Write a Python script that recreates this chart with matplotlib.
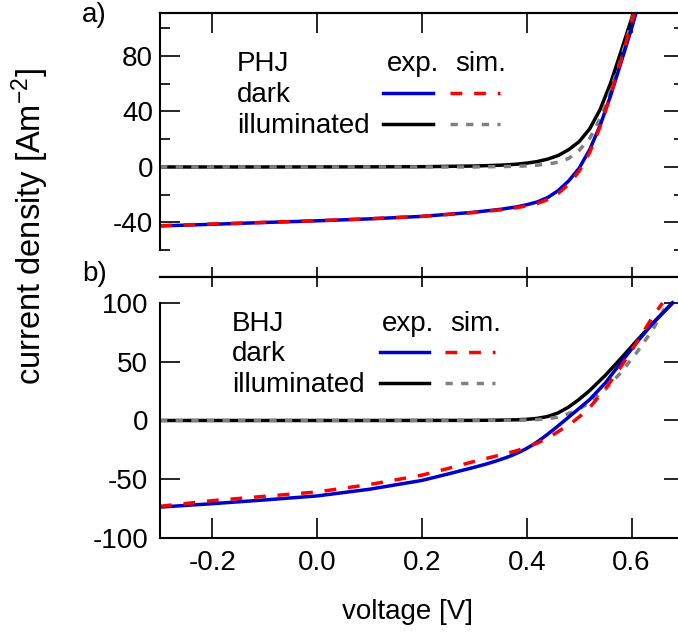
import numpy as np
import matplotlib
matplotlib.use("Agg")
import matplotlib.pyplot as plt
from matplotlib.ticker import FixedLocator

plt.rcParams['font.family'] = ['Liberation Sans', 'DejaVu Sans']
plt.rcParams['axes.unicode_minus'] = False
plt.rcParams['mathtext.default'] = 'regular'

# a) PHJ
v_phj_dark = [-0.3, -0.1, 0.1, 0.2, 0.3, 0.35, 0.38, 0.40, 0.42, 0.44, 0.46, 0.48, 0.50, 0.52, 0.54, 0.56, 0.58, 0.60, 0.62]
j_phj_dark_exp = [0, 0, 0.1, 0.2, 0.7, 1.3, 2.0, 2.8, 3.9, 5.7, 8.3, 12.5, 18.3, 27.5, 41.5, 60.5, 83.5, 107, 133]
j_phj_dark_sim = [0, 0, 0, 0, 0, 0.3, 0.5, 0.8, 1.3, 2.2, 3.4, 6.2, 12.0, 20.5, 35.0, 55.0, 78.0, 105, 135]
v_phj_ill = [-0.3, -0.2, -0.1, 0.0, 0.1, 0.2, 0.3, 0.35, 0.38, 0.40, 0.42, 0.44, 0.46, 0.48, 0.50, 0.52, 0.54, 0.56, 0.58, 0.60, 0.62]
j_phj_ill_exp = [-42.5, -41.3, -40.0, -38.8, -37.4, -35.6, -32.6, -30.5, -28.8, -27.2, -25.2, -22.0, -17.0, -10.0, -0.8, 12.5, 30.0, 51.5, 75.5, 100, 126]
j_phj_ill_sim = [-42.3, -41.1, -39.9, -38.7, -37.3, -35.6, -32.8, -30.9, -29.4, -28.0, -26.3, -23.5, -19.0, -12.5, -3.0, 10.5, 29.0, 52.0, 77.5, 104, 132]

# b) BHJ
v_bhj_dark_exp = [-0.3, -0.1, 0.1, 0.3, 0.35, 0.38, 0.40, 0.42, 0.44, 0.46, 0.48, 0.50, 0.52, 0.55, 0.58, 0.61, 0.64, 0.678]
j_bhj_dark_exp = [0, 0, 0, 0.1, 0.3, 0.6, 1.0, 1.8, 3.4, 6.5, 11.5, 18.0, 25.5, 38.5, 53.0, 68.0, 82.5, 100]
v_bhj_dark_sim = [-0.3, -0.1, 0.1, 0.3, 0.35, 0.40, 0.43, 0.46, 0.49, 0.52, 0.55, 0.58, 0.61, 0.64, 0.669]
j_bhj_dark_sim = [0, 0, 0, 0, 0.1, 0.4, 1.0, 2.8, 7.5, 15.0, 26.5, 41.0, 58.0, 77.0, 100]
v_bhj_ill_exp = [-0.3, -0.2, -0.1, 0.0, 0.1, 0.2, 0.25, 0.30, 0.32, 0.34, 0.36, 0.37, 0.38, 0.39, 0.40,
                 0.41, 0.42, 0.43, 0.44, 0.45, 0.46, 0.49, 0.52, 0.55, 0.58, 0.61, 0.64, 0.678]
j_bhj_ill_exp = [-73.7, -70.8, -67.6, -64.2, -58.5, -51.0, -45.5, -39.8, -37.4, -34.7, -31.7, -30.0, -28.1, -26.0, -23.7,
                 -21.1, -18.2, -15.0, -11.6, -8.1, -4.5, 6.6, 17.8, 32.0, 49.5, 66.5, 82.5, 100]
v_bhj_ill_sim = [-0.3, -0.2, -0.1, 0.0, 0.1, 0.2, 0.25, 0.30, 0.33, 0.36, 0.38, 0.40, 0.42, 0.44, 0.46,
                 0.49, 0.505, 0.52, 0.55, 0.58, 0.61, 0.64, 0.659]
j_bhj_ill_sim = [-73.0, -68.2, -64.5, -60.8, -54.5, -46.5, -40.8, -34.8, -31.5, -28.2, -25.8, -22.8, -19.3, -14.8, -9.5,
                 -0.5, 4.9, 11.0, 27.0, 46.0, 66.5, 88.0, 100]

xticks = [-0.2, 0.0, 0.2, 0.4, 0.6]
xticklabels = ['-0.2', '0.0', '0.2', '0.4', '0.6']

BLUE = '#0000cc'
RED = '#ff0000'
GRAY = '#808080'
LW = 2.5
FS = 20

W, H = 678, 644
fig = plt.figure(figsize=(W / 100, H / 100), dpi=100)
ax1 = fig.add_axes([160 / W, 1 - 277 / H, 524 / W, 264 / H])
ax2 = fig.add_axes([160 / W, 1 - 538 / H, 524 / W, 261 / H])

for ax in (ax1, ax2):
    ax.set_xlim(-0.3, 0.7)
    for s in ax.spines.values():
        s.set_linewidth(1.5)

# curves
ax1.plot(v_phj_dark, j_phj_dark_exp, color='black', lw=LW)
ax1.plot(v_phj_dark, j_phj_dark_sim, color=GRAY, lw=LW, dashes=(2.1, 2.4))
ax1.plot(v_phj_ill, j_phj_ill_exp, color=BLUE, lw=LW)
ax1.plot(v_phj_ill, j_phj_ill_sim, color=RED, lw=LW, dashes=(3.4, 3.4))

ax2.plot(v_bhj_dark_exp, j_bhj_dark_exp, color='black', lw=LW)
ax2.plot(v_bhj_dark_sim, j_bhj_dark_sim, color=GRAY, lw=LW, dashes=(2.1, 2.4))
ax2.plot(v_bhj_ill_exp, j_bhj_ill_exp, color=BLUE, lw=LW)
ax2.plot(v_bhj_ill_sim, j_bhj_ill_sim, color=RED, lw=LW, dashes=(3.4, 3.4))

# top panel axes
ax1.set_ylim(-79.3, 111)
ax1.spines['left'].set_bounds(-60, 111)
ax1.spines['right'].set_bounds(-60, 111)
ax1.yaxis.set_major_locator(FixedLocator([-40, 0, 40, 80]))
ax1.yaxis.set_minor_locator(FixedLocator([-60, -20, 20, 60, 100]))
ax1.tick_params(axis='y', which='both', direction='in', left=True, right=True, width=1.2, labelsize=FS, pad=5)
ax1.tick_params(axis='y', which='major', length=14.4)
ax1.tick_params(axis='y', which='minor', length=7.2)
ax1.set_xticks(xticks)
ax1.tick_params(axis='x', direction='in', bottom=True, top=False, labelbottom=False, length=7.2, width=1.2)
sec1 = ax1.secondary_xaxis('top')
sec1.set_xticks(xticks)
sec1.tick_params(direction='in', length=14.4, width=1.2, labeltop=False)
sec1.spines['top'].set_linewidth(1.5)

# bottom panel axes
ax2.set_ylim(-100, 122.1)
ax2.spines['left'].set_bounds(-100, 100)
ax2.spines['right'].set_bounds(-100, 100)
ax2.set_yticks([-100, -50, 0, 50, 100])
ax2.tick_params(axis='y', direction='in', left=True, right=True, length=14.4, width=1.2, labelsize=FS, pad=8.6)
ax2.set_xticks(xticks)
ax2.set_xticklabels(xticklabels)
ax2.tick_params(axis='x', direction='in', bottom=True, top=False, length=14.4, width=1.2, labelsize=FS, pad=9)
sec2 = ax2.secondary_xaxis('top')
sec2.set_xticks(xticks)
sec2.tick_params(direction='in', length=7.2, width=1.2, labeltop=False)
sec2.spines['top'].set_linewidth(1.5)

# legends
def legend_block(ax, name, y_name, y_dark, y_ill, y_dline, y_iline, x_name, x_exp, x_sim, xl_exp, xl_sim):
    ax.text(x_name, y_name, name, transform=ax.transAxes, fontsize=FS, va='baseline')
    ax.text(x_name, y_dark, 'dark', transform=ax.transAxes, fontsize=FS, va='baseline')
    ax.text(x_name, y_ill, 'illuminated', transform=ax.transAxes, fontsize=FS, va='baseline')
    ax.text(x_exp, y_name, 'exp.', transform=ax.transAxes, fontsize=FS, va='baseline')
    ax.text(x_sim, y_name, 'sim.', transform=ax.transAxes, fontsize=FS, va='baseline')
    ax.plot(xl_exp, [y_dline, y_dline], transform=ax.transAxes, color=BLUE, lw=LW)
    ax.plot(xl_sim, [y_dline, y_dline], transform=ax.transAxes, color=RED, lw=LW, dashes=(3.4, 3.4))
    ax.plot(xl_exp, [y_iline, y_iline], transform=ax.transAxes, color='black', lw=LW)
    ax.plot(xl_sim, [y_iline, y_iline], transform=ax.transAxes, color=GRAY, lw=LW, dashes=(2.1, 2.4))

legend_block(ax1, 'PHJ', 0.780, 0.663, 0.545, 0.696, 0.578,
             0.147, 0.433, 0.563, [0.426, 0.521], [0.553, 0.649])
legend_block(ax2, 'BHJ', 0.793, 0.678, 0.559, 0.713, 0.594,
             0.137, 0.423, 0.553, [0.419, 0.514], [0.544, 0.639])

fig.text(82 / W, 1 - 22 / H, 'a)', fontsize=FS, va='baseline', ha='left')
fig.text(82 / W, 1 - 281 / H, 'b)', fontsize=FS, va='baseline', ha='left')
fig.text(30 / W, 1 - 226 / H, 'current density [Am$^{-2}$]', rotation=90,
         fontsize=23.5, ha='center', va='center')
fig.text(407 / W, 1 - 612 / H, 'voltage [V]', fontsize=FS, ha='center', va='center')

fig.savefig('out.png', dpi=100)
